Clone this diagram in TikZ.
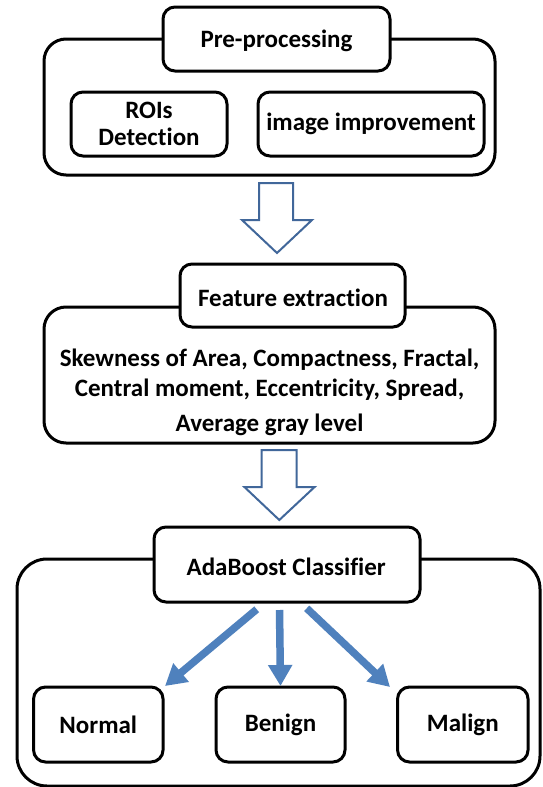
\documentclass[tikz,border=0pt]{standalone}
\usepackage{fontspec}
\setmainfont{Carlito}[Ligatures={NoCommon}]
\usetikzlibrary{arrows.meta}
\definecolor{hollowblue}{HTML}{41679A}
\definecolor{fillblue}{HTML}{4F81BD}
\begin{document}
\begin{tikzpicture}[x=1pt,y=-1pt,
  every node/.style={font=\fontsize{25}{30}\selectfont\bfseries, inner sep=0pt},
  bigbox/.style={draw=black, line width=3pt, rounded corners=22pt, fill=white},
  smallbox/.style={draw=black, line width=3pt, rounded corners=12pt, fill=white},
  hollow/.style={draw=hollowblue, line width=2pt, fill=white, line join=miter},
  blueconn/.style={draw=fillblue, line width=7.5pt, -{Triangle[width=23pt,length=21pt]}, shorten >=0pt}]
\useasboundingbox (0,0) rectangle (542,787);
\clip (0,0) rectangle (542,787);
% --- Pre-processing ---
\node[bigbox, minimum width=451pt, minimum height=136pt] (pre) at (269.5,107) {};
\node[smallbox, minimum width=227pt, minimum height=64pt] (pret) at (276.5,39) {};
\node at (276.5,41) {Pre-processing};
\node[smallbox, minimum width=156pt, minimum height=64pt, align=center, font=\fontsize{25}{27.5}\selectfont\bfseries] (roi) at (149,124) {ROIs\\Detection};
\node[smallbox, minimum width=226pt, minimum height=64pt] (img) at (371,124) {image improvement};
% hollow arrow 1
\draw[hollow] (259,183) -- (293,183) -- (293,220) -- (312,220) -- (277,253) -- (242,220) -- (259,220) -- cycle;
% --- Feature extraction ---
\node[bigbox, minimum width=451pt, minimum height=136pt] (fe) at (269.5,375) {};
\node[smallbox, minimum width=225pt, minimum height=63pt] (fet) at (292.5,295.5) {};
\node at (293,298) {Feature extraction};
\node[align=center] (feats) at (269.6,392) {Skewness of Area, Compactness, Fractal,\\Central moment, Eccentricity, Spread,\\[5pt]Average gray level};
% hollow arrow 2
\draw[hollow] (261.7,450) -- (296.6,450) -- (296.6,487) -- (314.6,487) -- (279.3,520) -- (244.4,487) -- (261.7,487) -- cycle;
% --- AdaBoost ---
\node[bigbox, rounded corners=30pt, minimum width=523pt, minimum height=227pt] (ada) at (278.5,672.5) {};
\node[smallbox, minimum width=266pt, minimum height=75pt] (adat) at (287,564.5) {};
\node at (286.2,567) {AdaBoost Classifier};
\node[smallbox, minimum width=129.5pt, minimum height=75pt] (normal) at (98.3,724.5) {Normal};
\node[smallbox, minimum width=129pt, minimum height=75pt] (benign) at (280.5,724.5) {Benign};
\node[smallbox, minimum width=130.5pt, minimum height=75pt] (malign) at (462.8,724.5) {Malign};
% blue connectors
\coordinate (s1) at (256.7,609.3);
\coordinate (e1) at (165,686);
\coordinate (s2) at (279.5,610);
\coordinate (e2) at (280.5,686);
\coordinate (s3) at (306.7,608.3);
\coordinate (e3) at (390,687);
\draw[blueconn] (s1) -- (e1);
\draw[blueconn] (s2) -- (e2);
\draw[blueconn] (s3) -- (e3);
\end{tikzpicture}
\end{document}
